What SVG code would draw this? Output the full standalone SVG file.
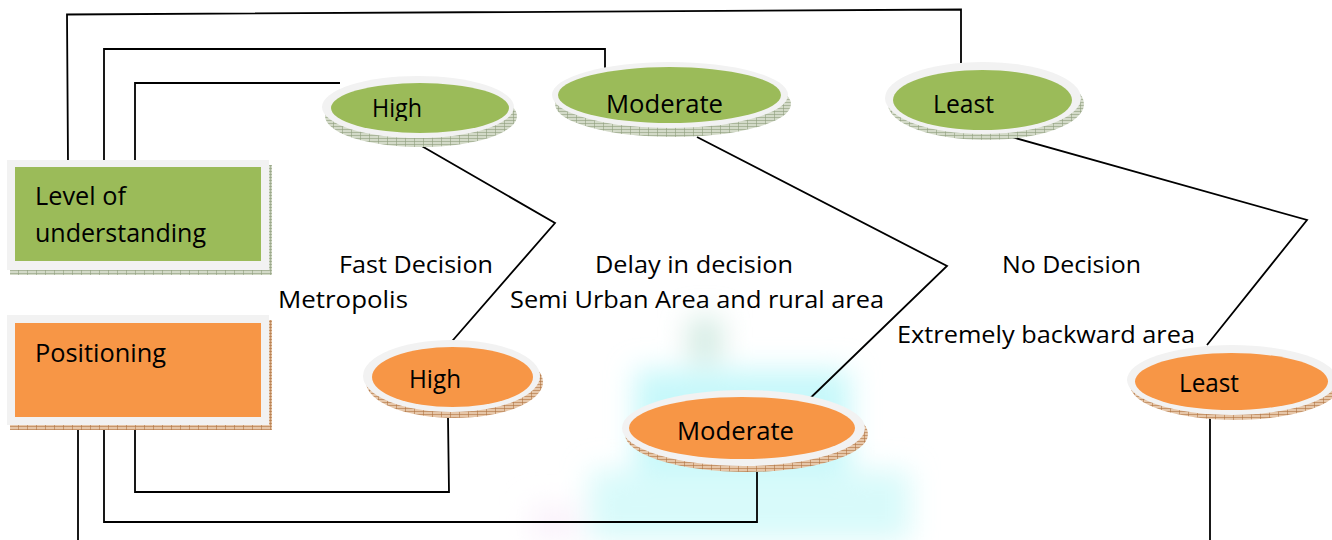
<svg xmlns="http://www.w3.org/2000/svg" width="1332" height="540" viewBox="0 0 1332 540">
  <defs>
    <style>
      .t { font-family: "Open Sans", "Liberation Sans", sans-serif; fill: #000; }
      .lbl { font-size: 24px; }
      .nt { font-size: 26px; }
      .ring { fill: #f2f2f2; }
      .green { fill: #9bbb59; }
      .orange { fill: #f79646; }
      .wire { fill: none; stroke: #000; stroke-width: 1.8; stroke-linejoin: miter; }
    </style>
    <!-- hatched bevel textures -->
    <pattern id="hatchG" width="9" height="3" patternUnits="userSpaceOnUse">
      <rect width="9" height="3" fill="#d3dac8"/>
      <path d="M0 0.5H9M0.5 0V3" stroke="#8f9d7c" stroke-width="0.6"/>
    </pattern>
    <pattern id="hatchO" width="9" height="3" patternUnits="userSpaceOnUse">
      <rect width="9" height="3" fill="#e6c6a8"/>
      <path d="M0 0.5H9M0.5 0V3" stroke="#b07442" stroke-width="0.6"/>
    </pattern>
    <filter id="haze" x="-30%" y="-30%" width="160%" height="160%">
      <feGaussianBlur stdDeviation="14"/>
    </filter>
    <clipPath id="clipHighG"><rect x="360" y="85" width="80" height="36"/></clipPath>
    <clipPath id="clipHighO"><rect x="400" y="355" width="80" height="39"/></clipPath>
  </defs>

  <rect width="1332" height="540" fill="#ffffff"/>

  <!-- faint background tint -->
  <g id="tint" filter="url(#haze)">
    <rect x="635" y="370" width="215" height="170" fill="#c6f8fa"/>
    <rect x="590" y="470" width="320" height="70" fill="#d8fafa"/>
    <rect x="688" y="318" width="34" height="44" fill="#d3ebe3"/>
    <rect x="530" y="505" width="50" height="35" fill="#faf2fb"/>
  </g>

  <!-- connectors -->
  <g id="connectors">
    <path class="wire" d="M68 163 L67 14.5 L961 9.5 L961 70"/>
    <path class="wire" d="M104 163 V49 H605 V68"/>
    <path class="wire" d="M135 163 V83 H340"/>
    <path class="wire" d="M413 141 L555 223 L447 347"/>
    <path class="wire" d="M697 137 L947 266 L798 410"/>
    <path class="wire" d="M1008 136 L1307 220 L1207 345"/>
    <path class="wire" d="M135 426 V492 H449 L448 418"/>
    <path class="wire" d="M104 426 V522 H757 V472"/>
    <path class="wire" d="M78 426 V540"/>
    <path class="wire" d="M1210 413 V540"/>
  </g>

  <!-- category boxes -->
  <g id="level-of-understanding">
    <rect x="10" y="268" width="262" height="7" fill="url(#hatchG)"/>
    <rect x="268" y="165" width="4" height="110" fill="url(#hatchG)"/>
    <rect x="7" y="160" width="262" height="110" class="ring"/>
    <rect x="15" y="167" width="246" height="94" class="green"/>
    <text class="t nt" x="35" y="205" textLength="91" lengthAdjust="spacingAndGlyphs">Level of</text>
    <text class="t nt" x="35" y="242" textLength="171" lengthAdjust="spacingAndGlyphs">understanding</text>
  </g>

  <g id="positioning">
    <rect x="10" y="423" width="262" height="7" fill="url(#hatchO)"/>
    <rect x="268" y="320" width="4" height="110" fill="url(#hatchO)"/>
    <rect x="7" y="315" width="262" height="110" class="ring"/>
    <rect x="15" y="323" width="246" height="94" class="orange"/>
    <text class="t nt" x="35" y="362" textLength="131" lengthAdjust="spacingAndGlyphs">Positioning</text>
  </g>

  <!-- understanding levels -->
  <g id="understanding-high">
    <ellipse cx="421" cy="116" rx="96" ry="31" fill="url(#hatchG)"/>
    <ellipse cx="418" cy="107" rx="96" ry="31" class="ring"/>
    <ellipse cx="420" cy="108" rx="89" ry="25" class="green"/>
    <text class="t nt" x="372" y="117" textLength="50" lengthAdjust="spacingAndGlyphs" clip-path="url(#clipHighG)">High</text>
  </g>

  <g id="understanding-moderate">
    <ellipse cx="673" cy="104" rx="118" ry="33" fill="url(#hatchG)"/>
    <ellipse cx="670" cy="95" rx="118" ry="33" class="ring"/>
    <ellipse cx="669.5" cy="95" rx="111.5" ry="28" class="green"/>
    <text class="t nt" x="606" y="112.5" textLength="117" lengthAdjust="spacingAndGlyphs">Moderate</text>
  </g>

  <g id="understanding-least">
    <ellipse cx="986" cy="104" rx="98" ry="36" fill="url(#hatchG)"/>
    <ellipse cx="983" cy="98" rx="98" ry="36" class="ring"/>
    <ellipse cx="982.5" cy="100" rx="89.5" ry="30" class="green"/>
    <text class="t nt" x="933" y="113" textLength="61" lengthAdjust="spacingAndGlyphs">Least</text>
  </g>

  <!-- positioning levels -->
  <g id="positioning-high">
    <ellipse cx="454.5" cy="382" rx="88.5" ry="36" fill="url(#hatchO)"/>
    <ellipse cx="451.5" cy="376" rx="88.5" ry="36" class="ring"/>
    <ellipse cx="452.5" cy="377" rx="80.5" ry="30" class="orange"/>
    <text class="t nt" x="409" y="388" textLength="52" lengthAdjust="spacingAndGlyphs" clip-path="url(#clipHighO)">High</text>
  </g>

  <g id="positioning-moderate">
    <ellipse cx="746.5" cy="434" rx="121.5" ry="38" fill="url(#hatchO)"/>
    <ellipse cx="743.5" cy="428" rx="121.5" ry="38" class="ring"/>
    <ellipse cx="742" cy="428" rx="113" ry="31" class="orange"/>
    <text class="t nt" x="677" y="440" textLength="117" lengthAdjust="spacingAndGlyphs">Moderate</text>
  </g>

  <g id="positioning-least">
    <ellipse cx="1235" cy="385" rx="105" ry="35" fill="url(#hatchO)"/>
    <ellipse cx="1232" cy="380" rx="105" ry="35" class="ring"/>
    <ellipse cx="1231.5" cy="381.5" rx="96.5" ry="28.5" class="orange"/>
    <text class="t nt" x="1179" y="392" textLength="60" lengthAdjust="spacingAndGlyphs">Least</text>
  </g>

  <!-- free labels -->
  <g id="labels">
    <text class="t lbl" x="339" y="273" textLength="154" lengthAdjust="spacingAndGlyphs">Fast Decision</text>
    <text class="t lbl" x="278" y="308" textLength="130" lengthAdjust="spacingAndGlyphs">Metropolis</text>
    <text class="t lbl" x="595" y="273" textLength="198" lengthAdjust="spacingAndGlyphs">Delay in decision</text>
    <text class="t lbl" x="510" y="308" textLength="374" lengthAdjust="spacingAndGlyphs">Semi Urban Area and rural area</text>
    <text class="t lbl" x="1002" y="273" textLength="139" lengthAdjust="spacingAndGlyphs">No Decision</text>
    <text class="t lbl" x="897" y="343" textLength="298" lengthAdjust="spacingAndGlyphs">Extremely backward area</text>
  </g>
</svg>
